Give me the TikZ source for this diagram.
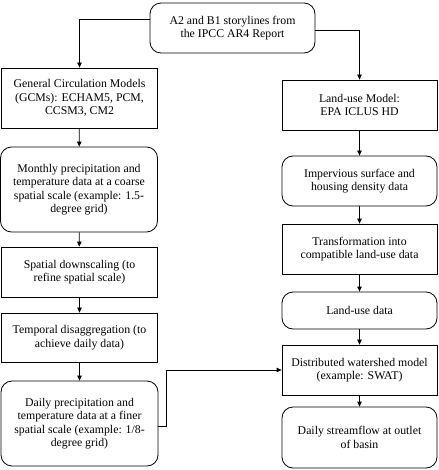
\documentclass[tikz,border=0pt]{standalone}
\usepackage{fontspec}
\setmainfont{Liberation Serif}
\usetikzlibrary{arrows.meta}
\begin{document}
\begin{tikzpicture}[x=1pt,y=-1pt,
  box/.style={draw,line width=0.8pt,align=center,inner sep=1pt,
    font=\fontsize{11.8}{13.4}\selectfont,minimum width=156pt},
  rbox/.style={box,rounded corners=11pt},
  arr/.style={line width=0.8pt,-{Triangle[length=5pt,width=4.5pt]}}]
\useasboundingbox (0,0) rectangle (438,470);
\node[rbox,minimum width=165pt,minimum height=50pt] (top) at (232.5,28) {A2 and B1 storylines from\\the IPCC AR4 Report};
\node[box,minimum height=60pt] (gcm) at (79.5,98) {General Circulation Models\\(GCMs): ECHAM5, PCM,\\CCSM3, CM2};
\node[rbox,minimum width=157pt,minimum height=85pt] (monthly) at (79,189.5) {Monthly precipitation and\\temperature data at a coarse\\spatial scale (example: 1.5-\\degree grid)};
\node[box,minimum height=50pt] (spatial) at (79.5,272) {Spatial downscaling (to\\refine spatial scale)};
\node[box,minimum height=49pt] (temporal) at (79.5,337.5) {Temporal disaggregation (to\\achieve daily data)};
\node[rbox,minimum width=157pt,minimum height=85pt] (daily) at (79.5,423.5) {Daily precipitation and\\temperature data at a finer\\spatial scale (example: 1/8-\\degree grid)};
\node[box,minimum width=155pt,minimum height=50pt] (landuse) at (359.5,105) {Land-use Model:\\EPA ICLUS HD};
\node[rbox,minimum width=155pt,minimum height=50pt] (imperv) at (359.5,181) {Impervious surface and\\housing density data};
\node[box,minimum width=155pt,minimum height=50pt] (transf) at (359.5,249) {Transformation into\\compatible land-use data};
\node[rbox,minimum width=155pt,minimum height=37pt] (lud) at (359.5,310.5) {Land-use data};
\node[box,minimum width=155pt,minimum height=50pt] (dist) at (359.5,370) {Distributed watershed model\\(example: SWAT)};
\node[rbox,minimum width=155pt,minimum height=61pt] (stream) at (359.5,437.5) {Daily streamflow at outlet\\of basin};
\draw[arr] ([yshift=9pt]top.west) -| (gcm.north);
\draw[arr] ([yshift=-2pt]top.east) -| (landuse.north);
\draw[arr] (gcm) -- (monthly);
\draw[arr] (monthly) -- (spatial);
\draw[arr] (spatial) -- (temporal);
\draw[arr] (temporal) -- (daily);
\draw[arr] (landuse) -- (imperv);
\draw[arr] (imperv) -- (transf);
\draw[arr] (transf) -- (lud);
\draw[arr] (lud) -- (dist);
\draw[arr] (dist) -- (stream);
\draw[arr] ([yshift=-3pt]daily.east) -- ++(8,0) |- (dist.west);
\end{tikzpicture}
\end{document}
